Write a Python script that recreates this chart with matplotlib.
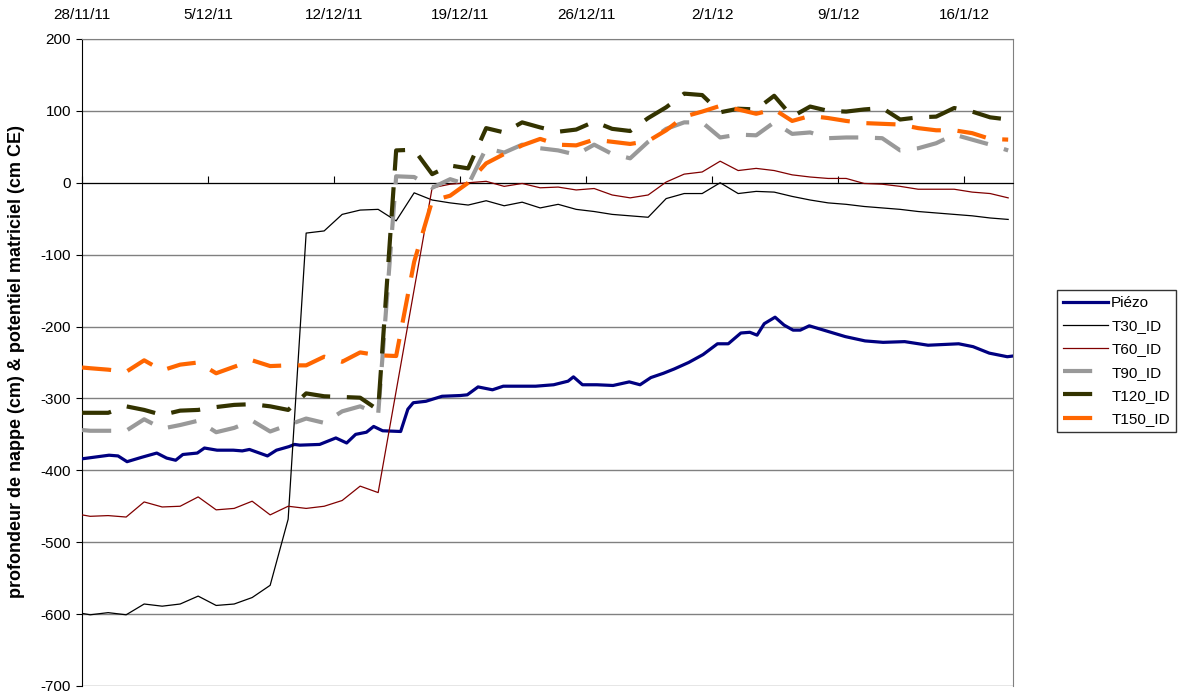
import numpy as np
import matplotlib
matplotlib.use("Agg")
import matplotlib.pyplot as plt

plt.rcParams['font.family'] = ['Liberation Sans', 'DejaVu Sans']
plt.rcParams['axes.unicode_minus'] = False

# Axis ticks (days since 28/11/11)
tick_days = [0, 7, 14, 21, 28, 35, 42, 49]
tick_labels = ['28/11/11', '5/12/11', '12/12/11', '19/12/11', '26/12/11',
               '2/1/12', '9/1/12', '16/1/12']

# Daily probe readings (first value sits on the left edge of the window)
t_days = np.concatenate([[0.0], np.arange(52) + 0.45])

t30 = [-599, -601, -598, -601, -586, -589, -586, -575, -588, -586, -577, -560, -468,
       -70, -67, -44, -38, -37, -53, -14, -24, -28, -31, -25, -32, -27, -35, -30,
       -37, -40, -44, -46, -48, -22, -15, -15, 0, -15, -12, -13, -19, -24, -28,
       -30, -33, -35, -37, -40, -42, -44, -46, -49, -51]
t60 = [-462, -464, -463, -465, -444, -451, -450, -437, -455, -453, -443, -462, -450,
       -453, -450, -442, -422, -431, None, None, -7, -2, 0, 2, -5, -1, -7, -6,
       -10, -8, -17, -21, -17, 1, 12, 15, 30, 17, 20, 17, 11, 8, 6, 6, -1, -2,
       -5, -9, -9, -9, -13, -15, -21]
t90 = [-344, -345, -345, -345, -329, -342, -337, -331, -347, -341, -331, -346, -337,
       -328, -334, -318, -311, -322, 9, 8, -7, 5, -3, 48, 42, 53, 48, 45, 39,
       53, 40, 34, 57, 75, 84, 84, 63, 67, 66, 84, 68, 70, 62, 63, 63, 62, 45,
       48, 55, 67, 60, 53, 45]
t120 = [-320, -320, -320, -311, -316, -323, -317, -316, -312, -309, -308, -311, -316,
        -293, -297, -298, -299, -316, 45, 46, 12, 24, 20, 76, 70, 84, 77, 71, 74,
        85, 75, 72, 90, 105, 124, 122, 98, 103, 102, 121, 92, 106, 100, 99, 102,
        104, 88, 91, 92, 104, 99, 91, 88]
t150 = [-257, -258, -260, -263, -247, -261, -253, -250, -265, -256, -247, -255, -254,
        -254, -242, -249, -236, -240, -241, -110, -25, -18, 0, 27, 40, 52, 61, 53,
        52, 60, 57, 54, 58, 73, 92, 99, 107, 102, 96, 102, 86, 93, 90, 86, 83, 82,
        81, 76, 73, 73, 69, 61, 60]

# Piezometer (water table depth)
piezo_days = [0, 0.6, 1.5, 2.0, 2.5, 3.3, 4.15, 4.7, 5.2, 5.6, 6.4, 6.8, 7.5, 8.4, 8.9,
              9.3, 10.3, 10.8, 11.5, 11.8, 12.1, 13.2, 14.1, 14.7, 15.2, 15.8, 16.2,
              16.7, 17.7, 18.1, 18.4, 19.1, 20.0, 21.0, 21.4, 22.0, 22.8, 23.4, 24.3,
              25.2, 26.2, 27.0, 27.3, 27.8, 28.6, 29.5, 30.4, 31.0, 31.6, 32.3, 32.9,
              33.7, 34.5, 35.3, 35.9, 36.6, 37.1, 37.5, 37.9, 38.5, 39.0, 39.5, 39.9,
              40.4, 41.2, 42.4, 43.5, 44.5, 45.7, 47.0, 48.7, 49.5, 50.4, 51.4, 51.72]
piezo_vals = [-384, -382, -379, -380, -388, -382, -376, -383, -386, -378, -376, -369,
              -372, -372, -373, -371, -380, -372, -367, -364, -365, -364, -355, -362,
              -350, -347, -339, -345, -346, -315, -306, -304, -297, -296, -295, -284,
              -288, -283, -283, -283, -281, -276, -270, -281, -281, -282, -277, -281,
              -271, -265, -259, -250, -239, -224, -224, -209, -208, -212, -196, -187,
              -198, -205, -205, -199, -205, -214, -220, -222, -221, -226, -224, -228,
              -237, -242, -241]

fig = plt.figure(figsize=(11.84, 6.95), dpi=100)
ax = fig.add_axes([0.0693, 0.0130, 0.7863, 0.9309])


def plot_series(vals, **kw):
    v = np.array([np.nan if x is None else x for x in vals], dtype=float)
    ok = ~np.isnan(v)
    ax.plot(t_days[ok], v[ok], **kw)


ax.plot(piezo_days, piezo_vals, color='#000080', lw=2.3, label='Piézo', zorder=3)
plot_series(t30, color='black', lw=0.9, label='T30_ID', zorder=4)
plot_series(t60, color='#800000', lw=0.9, label='T60_ID', zorder=4)
dash = dict(lw=3.0, dashes=(7, 4), dash_capstyle='butt', zorder=5)
plot_series(t90, color='#999999', label='T90_ID', **dash)
plot_series(t120, color='#333300', label='T120_ID', **dash)
plot_series(t150, color='#FF6600', label='T150_ID', **dash)

ax.set_xlim(0, 51.72)
ax.set_ylim(-700, 200)
ax.set_yticks(range(-700, 201, 100))
ax.yaxis.grid(True, color='#808080', lw=1)
ax.set_axisbelow(True)

for s in ['top', 'right']:
    ax.spines[s].set_color('#808080')
ax.spines['left'].set_color('black')
ax.spines['bottom'].set_position(('data', 0))
ax.spines['bottom'].set_color('black')

ax.set_xticks(tick_days)
ax.set_xticklabels(tick_labels)
ax.tick_params(axis='x', direction='in', length=5, bottom=True, top=False,
               labelbottom=False, labeltop=True, pad=12, labelsize=11)
ax.tick_params(axis='y', direction='out', length=4, pad=4, labelsize=11)

fig.text(0.014, 0.4799, 'profondeur de nappe (cm) & potentiel matriciel (cm CE)',
         rotation=90, ha='center', va='center', fontsize=13, fontweight='bold')

leg = ax.legend(loc='upper left', bbox_to_anchor=(1057 / 1184, 1 - 290 / 695),
                bbox_transform=fig.transFigure, borderaxespad=0, fontsize=11,
                frameon=True, fancybox=False, handlelength=2.95, handletextpad=0.2,
                labelspacing=0.6, borderpad=0.4)
leg.get_frame().set_edgecolor('black')
leg.get_frame().set_linewidth(1)

fig.savefig('out.png', dpi=100)
